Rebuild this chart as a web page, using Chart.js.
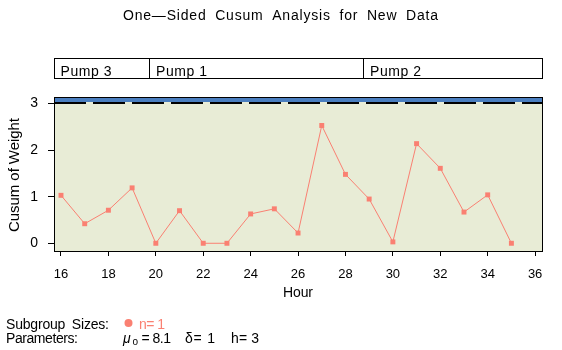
<!DOCTYPE html>
<html>
<head>
<meta charset="utf-8">
<script src="https://cdn.jsdelivr.net/npm/chart.js@4.4.1/dist/chart.umd.min.js"></script>
<style>
  html, body { margin: 0; padding: 0; background: #fff; }
  canvas { display: block; }
</style>
</head>
<body>
<canvas id="chart" width="562" height="350"></canvas>
<script>
// data
const hours = [16, 17, 18, 19, 20, 21, 22, 23, 24, 25, 26, 27, 28, 29, 30, 31, 32, 33, 34, 35];
const cusum = [1.03, 0.42, 0.71, 1.19, 0, 0.70, 0, 0, 0.63, 0.74, 0.22, 2.53, 1.48, 0.95, 0.03, 2.14, 1.61, 0.67, 1.04, 0];
const xTicks = [16, 18, 20, 22, 24, 26, 28, 30, 32, 34, 36];
const yTicks = [0, 1, 2, 3];
const pumpNames = ['Pump 3', 'Pump 1', 'Pump 2'];
const pumpBreaks = [19.7, 28.73];
const hLimit = 3;

const FONT = '"Liberation Sans", Arial, sans-serif';
const SALMON = '#fa8072';
const PLOT_BG = '#e8ecd6';
const BAND = '#4a7ebf';

// draw text stretched to a given width (SAS font is wider than Arial)
function fitText(ctx, str, x, y, w, align, wordSp) {
  ctx.letterSpacing = '0px';
  ctx.wordSpacing = (wordSp || 0) + 'px';
  const n = [...str].length;
  const raw = ctx.measureText(str).width;
  const sp = n > 1 ? (w - raw) / (n - 1) : 0;
  ctx.letterSpacing = sp + 'px';
  ctx.textAlign = 'left';
  const x0 = align === 'center' ? x - w / 2 : x;
  ctx.fillText(str, x0, y);
  ctx.letterSpacing = '0px';
  ctx.wordSpacing = '0px';
}

const decor = {
  id: 'decor',
  beforeDatasetsDraw(chart) {
    const { ctx, chartArea: a, scales: { y } } = chart;
    const y3 = Math.round(y.getPixelForValue(hLimit));
    ctx.save();
    ctx.fillStyle = PLOT_BG;
    ctx.fillRect(a.left, a.top, a.right - a.left, a.bottom - a.top);
    ctx.fillStyle = BAND;
    ctx.fillRect(a.left, a.top, a.right - a.left, y3 - 2 - a.top);
    // dashed h line
    ctx.strokeStyle = '#000';
    ctx.lineWidth = 2;
    ctx.setLineDash([32, 7]);
    ctx.beginPath();
    ctx.moveTo(a.left, y3 - 1);
    ctx.lineTo(a.right, y3 - 1);
    ctx.stroke();
    ctx.restore();
  },
  afterDraw(chart) {
    const { ctx, chartArea: a, scales: { x } } = chart;
    ctx.save();
    ctx.strokeStyle = '#000';
    ctx.lineWidth = 1;
    ctx.strokeRect(a.left + 0.5, a.top + 0.5, a.right - a.left - 1, a.bottom - a.top);

    // pump block
    const bt = 58.5, bb = 78.5;
    ctx.strokeRect(a.left + 0.5, bt, a.right - a.left - 1, bb - bt);
    const edges = [a.left].concat(pumpBreaks.map(v => Math.round(x.getPixelForValue(v)) + 0.5));
    ctx.beginPath();
    edges.slice(1).forEach(px => { ctx.moveTo(px, bt); ctx.lineTo(px, bb); });
    ctx.stroke();
    ctx.fillStyle = '#000';
    ctx.textBaseline = 'alphabetic';
    ctx.font = '14px ' + FONT;
    pumpNames.forEach((name, i) => fitText(ctx, name, edges[i] + 6.5, 75.7, 51, 'left'));

    // title
    ctx.font = '14px ' + FONT;
    fitText(ctx, 'One\u2014Sided Cusum Analysis for New Data', 280.5, 20, 315, 'center', 4);

    // axis titles
    ctx.font = '14px ' + FONT;
    fitText(ctx, 'Hour', 298, 297, 30, 'center');
    ctx.save();
    ctx.translate(19, 175);
    ctx.rotate(-Math.PI / 2);
    ctx.font = '15px ' + FONT;
    fitText(ctx, 'Cusum of Weight', 0, 0, 114, 'center');
    ctx.restore();

    // footnotes
    ctx.font = '14px ' + FONT;
    fitText(ctx, 'Subgroup Sizes:', 6, 329, 103, 'left', 3);
    fitText(ctx, 'Parameters:', 6, 342.7, 72, 'left');
    ctx.fillStyle = SALMON;
    ctx.beginPath();
    ctx.arc(128.5, 323, 4, 0, Math.PI * 2);
    ctx.fill();
    fitText(ctx, 'n= 1', 139, 329, 26, 'left');
    ctx.fillStyle = '#000';
    ctx.font = 'italic 14px ' + FONT;
    ctx.textAlign = 'left';
    ctx.fillText('\u03bc', 123, 342.7);
    ctx.font = '10px ' + FONT;
    ctx.fillText('o', 132.5, 344.5);
    ctx.font = '14px ' + FONT;
    fitText(ctx, '= 8.1', 141.5, 342.7, 29.5, 'left');
    fitText(ctx, '\u03b4= 1', 185, 342.7, 30, 'left');
    fitText(ctx, 'h= 3', 231, 342.7, 28, 'left');
    ctx.restore();
  }
};

new Chart(document.getElementById('chart'), {
  type: 'line',
  data: {
    datasets: [{
      data: hours.map((h, i) => ({ x: h, y: cusum[i] })),
      borderColor: SALMON,
      backgroundColor: SALMON,
      borderWidth: 1,
      pointStyle: 'rect',
      pointRadius: 3.5,
      pointBorderWidth: 0,
      tension: 0
    }]
  },
  options: {
    responsive: false,
    animation: false,
    devicePixelRatio: 1,
    layout: { padding: { top: 97, right: 19, left: 0, bottom: 0 } },
    plugins: { legend: { display: false }, tooltip: { enabled: false }, title: { display: false } },
    scales: {
      x: {
        type: 'linear',
        min: 15.705,
        max: 36.333,
        afterBuildTicks: s => { s.ticks = xTicks.map(v => ({ value: v })); },
        afterFit: s => { s.height = 99; },
        grid: { drawOnChartArea: false, drawTicks: true, tickLength: 5, color: '#000' },
        border: { display: false },
        ticks: { color: '#000', font: { family: FONT, size: 13 }, padding: 11, maxRotation: 0, autoSkip: false }
      },
      y: {
        min: -0.166,
        max: 3.142,
        afterBuildTicks: s => { s.ticks = yTicks.map(v => ({ value: v })); },
        afterFit: s => { s.width = 54; },
        grid: { drawOnChartArea: false, drawTicks: true, tickLength: 6, color: '#000' },
        border: { display: false },
        ticks: { color: '#000', font: { family: FONT, size: 14 }, padding: 10 }
      }
    }
  },
  plugins: [decor]
});
</script>
</body>
</html>
